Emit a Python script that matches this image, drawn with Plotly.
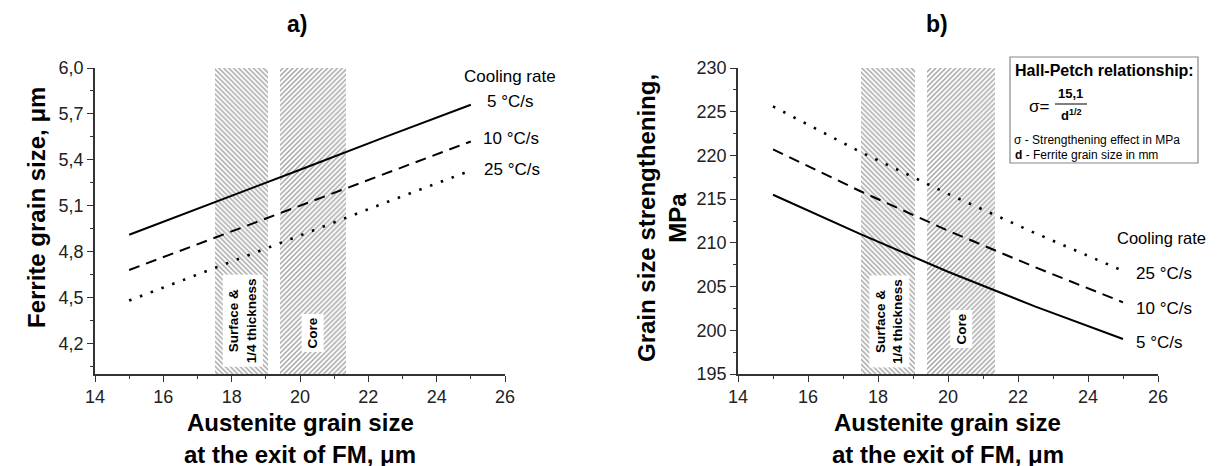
import plotly.graph_objects as go

# ---------------- data ----------------
austenite = [15, 17.5, 20, 22.5, 25]
# panel a) ferrite grain size (um)
ferrite_5 = [4.91, 5.12, 5.335, 5.55, 5.76]
ferrite_10 = [4.68, 4.89, 5.10, 5.31, 5.52]
ferrite_25 = [4.48, 4.69, 4.905, 5.12, 5.33]
# panel b) grain size strengthening (MPa)
streng_5 = [215.5, 211.0, 206.7, 202.7, 199.0]
streng_10 = [220.7, 215.9, 211.4, 207.2, 203.2]
streng_25 = [225.6, 220.4, 215.6, 211.1, 206.8]
rate_labels = ["5 °C/s", "10 °C/s", "25 °C/s"]
# zones (austenite grain size ranges)
surface_zone = [17.5, 19.05]
core_zone = [19.4, 21.35]
xticks = [14, 16, 18, 20, 22, 24, 26]

W, H = 1217, 466
FONT = "Arial, Liberation Sans, sans-serif"


def px(x, y):
    return x / W, 1 - y / H


fig = go.Figure()

styles = [dict(color="black", width=2, dash="solid"),
          dict(color="black", width=2, dash="11px,7px"),
          dict(color="black", width=2.6, dash="2.5px,9px")]

# hatched zones as bars
for xa, ya, yr in [("x", "y", (4.0, 6.0)), ("x2", "y2", (195, 230))]:
    for zone, shape in [(surface_zone, "\\"), (core_zone, "/")]:
        fig.add_trace(go.Bar(
            x=[(zone[0] + zone[1]) / 2], y=[yr[1] - yr[0]], base=[yr[0]],
            width=[zone[1] - zone[0]], xaxis=xa, yaxis=ya,
            marker=dict(color="white", line=dict(width=0),
                        pattern=dict(shape=shape, fgcolor="#444444", bgcolor="white",
                                     size=3.5, solidity=0.4)),
            showlegend=False, hoverinfo="skip"))

for ys, st in zip([ferrite_5, ferrite_10, ferrite_25], styles):
    fig.add_trace(go.Scatter(x=austenite, y=ys, mode="lines", line=st,
                             xaxis="x", yaxis="y", showlegend=False))
for ys, st in zip([streng_5, streng_10, streng_25], styles):
    fig.add_trace(go.Scatter(x=austenite, y=ys, mode="lines", line=st,
                             xaxis="x2", yaxis="y2", showlegend=False))

axis_common = dict(showline=True, linecolor="#333", linewidth=1.5, ticks="outside",
                   ticklen=6, tickwidth=1.2, tickcolor="#333", showgrid=False,
                   zeroline=False, automargin=False,
                   tickfont=dict(family=FONT, size=18, color="#222"))

fig.update_layout(
    width=W, height=H, margin=dict(l=0, r=0, t=0, b=0),
    paper_bgcolor="white", plot_bgcolor="white", separators=", ",
    barmode="overlay", bargap=0,
    xaxis=dict(domain=[87 / W, 497 / W], range=[14, 26], tickvals=xticks,
               minor=dict(ticks="outside", ticklen=3, dtick=1, tick0=15, tickcolor="#333"),
               anchor="y", **axis_common),
    yaxis=dict(domain=[1 - 366 / H, 1 - 60 / H], range=[4.0, 6.0], tick0=4.2, dtick=0.3,
               tickformat=".1f",
               minor=dict(ticks="outside", ticklen=3, dtick=0.15, tick0=4.05, tickcolor="#333"),
               anchor="x", **axis_common),
    xaxis2=dict(domain=[730 / W, 1150 / W], range=[14, 26], tickvals=xticks,
                minor=dict(ticks="outside", ticklen=3, dtick=1, tick0=15, tickcolor="#333"),
                anchor="y2", **axis_common),
    yaxis2=dict(domain=[1 - 366 / H, 1 - 60 / H], range=[195, 230], tick0=195, dtick=5,
                minor=dict(ticks="outside", ticklen=3, dtick=2.5, tick0=197.5, tickcolor="#333"),
                anchor="x2", **axis_common),
)

ann = []


def add_px(text, x, y, size, bold=False, xanchor="center", textangle=0, **kw):
    xx, yy = px(x, y)
    ann.append(dict(text=f"<b>{text}</b>" if bold else text, x=xx, y=yy, xref="paper",
                    yref="paper", showarrow=False, xanchor=xanchor, yanchor="middle",
                    textangle=textangle, font=dict(family=FONT, size=size, color="black"),
                    **kw))


# panel titles
add_px("a)", 289, 16, 23, bold=True)
add_px("b)", 929, 16, 23, bold=True)
# axis titles
add_px("Ferrite grain size, μm", 28, 200, 24, bold=True, textangle=-90)
add_px("Grain size strengthening,<br>MPa", 654, 210, 24, bold=True, textangle=-90)
for cx in [292, 940]:
    add_px("Austenite grain size", cx, 414, 24, bold=True)
    add_px("at the exit of FM, μm", cx, 446, 24, bold=True)

# cooling rate labels
add_px("Cooling rate", 502, 68, 17)
for lab, y, x in zip(rate_labels, [93, 130, 162], [477, 473, 474]):
    add_px(lab, x, y, 17, xanchor="left")
add_px("Cooling rate", 1200, 230, 16.5, xanchor="right")
for lab, y in zip(rate_labels, [334, 300, 265]):
    add_px(lab, 1126, y, 17, xanchor="left")

# zone labels (vertical, on white box)
for xa, ya, ys, yc in [("x", "y", 4.35, 4.27), ("x2", "y2", 201.0, 200.1)]:
    ann.append(dict(text="<b>Surface &amp;<br>1/4 thickness</b>",
                    x=(surface_zone[0] + surface_zone[1]) / 2 + 0.05, y=ys, xref=xa, yref=ya,
                    showarrow=False, textangle=-90, bgcolor="white", borderpad=3,
                    font=dict(family=FONT, size=13.5, color="black")))
    ann.append(dict(text="<b>Core</b>", x=(core_zone[0] + core_zone[1]) / 2, y=yc,
                    xref=xa, yref=ya, showarrow=False, textangle=-90, bgcolor="white",
                    borderpad=3, font=dict(family=FONT, size=13.5, color="black")))

# Hall-Petch box
add_px("Hall-Petch relationship:", 1096, 62, 16, bold=True)
add_px("σ=", 1031, 98, 17)
add_px("15,1", 1062, 86, 13, bold=True)
add_px("d<sup>1/2</sup>", 1063, 107, 13, bold=True)
add_px("σ - Strengthening effect in MPa", 1004, 132, 12, xanchor="left")
add_px("<b>d</b> - Ferrite grain size in mm", 1005, 147, 12, xanchor="left")

x0, y0 = px(1002, 155)
x1, y1 = px(1190, 49)
lx0, ly = px(1047, 96)
lx1, _ = px(1079, 96)
fig.update_layout(
    annotations=ann,
    shapes=[dict(type="rect", xref="paper", yref="paper", x0=x0, y0=y0, x1=x1, y1=y1,
                 line=dict(color="#888", width=1.2), fillcolor="white"),
            dict(type="line", xref="paper", yref="paper", x0=lx0, x1=lx1, y0=ly, y1=ly,
                 line=dict(color="black", width=1))])

fig.write_html("out.html")
